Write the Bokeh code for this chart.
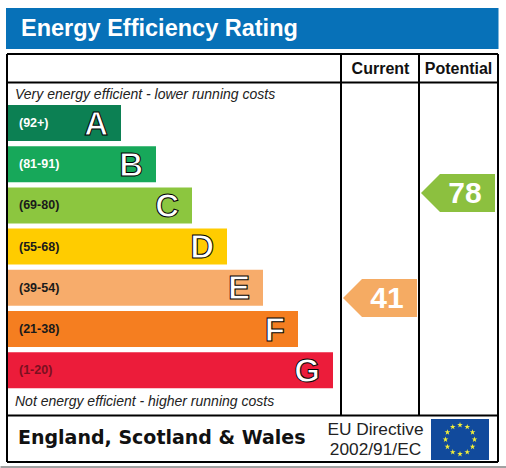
import math
from bokeh.plotting import figure
from bokeh.models import Range1d
from bokeh.core.properties import value
from bokeh.embed import file_html
from bokeh.resources import INLINE

# ---- data ----
title_text = "Energy Efficiency Rating"
columns = ["Current", "Potential"]
bands = ["A", "B", "C", "D", "E", "F", "G"]
ranges = ["(92+)", "(81-91)", "(69-80)", "(55-68)", "(39-54)", "(21-38)", "(1-20)"]
bar_lengths = [113, 148, 184, 219, 255, 290, 325]
bar_colors = ["#0C8053", "#17A85A", "#8CC63F", "#FFCC00", "#F7AC6B", "#F57E20", "#EC1C3A"]
range_colors = ["#FFFFFF", "#FFFFFF", "#1A1A1A", "#1A1A1A", "#1A1A1A", "#1A1A1A", "#7A1020"]
current_rating = 41
potential_rating = 78
current_color = "#F5AB63"
potential_color = "#8CC03F"
top_note = "Very energy efficient - lower running costs"
bottom_note = "Not energy efficient - higher running costs"
region = "England, Scotland & Wales"
directive = ["EU Directive", "2002/91/EC"]

# ---- layout (screen-like data space) ----
W, H = 506, 468
p = figure(width=W, height=H, x_range=Range1d(0.5, W + 0.5), y_range=Range1d(H + 0.5, 0.5),
           output_backend="svg", toolbar_location=None, min_border=0,
           outline_line_color=None, margin=(0, 0, 0, 0))
p.axis.visible = False
p.grid.visible = False
p.background_fill_color = "#FFFFFF"
p.border_fill_color = "#FFFFFF"

LEFT, RIGHT, TOP, HEAD, FOOT, BOTTOM = 7, 498, 54, 82.5, 415.5, 462
COL1, COL2 = 341, 419
SANS = value("Liberation Sans")
DEJA = value("DejaVu Sans")

# banner
p.quad(left=[6], right=[498.5], top=[8], bottom=[49], fill_color="#0771B8", line_color=None)
p.text(x=[21], y=[28], text=[title_text], text_color="#FFFFFF", text_font=SANS,
       text_font_style="bold", text_font_size="23.5px", text_baseline="middle")

# frame
p.segment(x0=[LEFT, LEFT, LEFT, LEFT, LEFT, RIGHT, COL1, COL2],
          y0=[TOP, HEAD, FOOT, BOTTOM, TOP, TOP, TOP, TOP],
          x1=[RIGHT, RIGHT, RIGHT, RIGHT, LEFT, RIGHT, COL1, COL2],
          y1=[TOP, HEAD, FOOT, BOTTOM, BOTTOM, BOTTOM, FOOT, FOOT],
          line_color="#000000", line_width=2)
p.segment(x0=[0], y0=[467], x1=[W + 1], y1=[467], line_color="#444444", line_width=1)

# headers
p.text(x=[(COL1 + COL2) / 2 + .5, (COL2 + RIGHT) / 2], y=[68, 68], text=columns,
       text_font=SANS, text_font_style="bold", text_font_size="16px", text_color="#111111",
       text_align="center", text_baseline="middle")

# notes
p.text(x=[15], y=[94], text=[top_note], text_font=SANS, text_font_style="italic",
       text_font_size="14px", text_color="#222222", text_baseline="middle")
p.text(x=[15], y=[401], text=[bottom_note], text_font=SANS, text_font_style="italic",
       text_font_size="14px", text_color="#222222", text_baseline="middle")

# bars
row0, step, bar_h, x0 = 105, 41.2, 36, 8
tops = [row0 + i * step for i in range(len(bands))]
rights = [x0 + v for v in bar_lengths]
p.quad(left=[x0] * len(bands), right=rights, top=tops, bottom=[t + bar_h for t in tops],
       fill_color=bar_colors, line_color=None)
p.text(x=[19] * len(bands), y=[t + bar_h / 2 for t in tops], text=ranges, text_color=range_colors,
       text_font=SANS, text_font_style="bold", text_font_size="12.5px", text_baseline="middle")
p.text(x=[r - 13 for r in rights], y=[t + bar_h / 2 for t in tops], text=bands,
       text_color="#FFFFFF", text_outline_color="#000000", text_font=SANS, text_font_style="bold",
       text_font_size="33px", text_align="right", text_baseline="middle")

# rating arrows: rating -> vertical position
def rating_y(v):
    return 414.4 - 2.838 * v

def arrow(rating, tip, right, color):
    y = rating_y(rating)
    h = 19
    p.patch(x=[tip, tip + 19, right, right, tip + 19], y=[y, y - h, y - h, y + h, y + h],
            fill_color=color, line_color=None)
    p.text(x=[(tip + right) / 2 + 7], y=[y], text=[str(rating)], text_color="#FFFFFF",
           text_font=SANS, text_font_style="bold", text_font_size="30px",
           text_align="center", text_baseline="middle")

arrow(current_rating, 343, 417, current_color)
arrow(potential_rating, 421, 495, potential_color)

# footer
p.text(x=[18], y=[437], text=[region], text_font=DEJA, text_font_style="bold",
       text_font_size="19px", text_color="#111111", text_baseline="middle")
p.text(x=[375.5, 375.5], y=[429, 449], text=directive, text_font=SANS, text_font_size="17.3px",
       text_color="#222222", text_align="center", text_baseline="middle")

# EU flag
fx0, fx1, fy0, fy1 = 431, 489, 419, 460
p.quad(left=[fx0], right=[fx1], top=[fy0], bottom=[fy1], fill_color="#114A9C", line_color=None)
cx, cy, rad = (fx0 + fx1) / 2, (fy0 + fy1) / 2, 14.5
p.scatter(x=[cx + rad * math.sin(math.radians(30 * i)) for i in range(12)],
          y=[cy + rad * math.cos(math.radians(30 * i)) for i in range(12)],
          marker="star", size=6, fill_color="#F2EE3A", line_color=None)

open("out.html", "w").write(file_html(p, INLINE))
